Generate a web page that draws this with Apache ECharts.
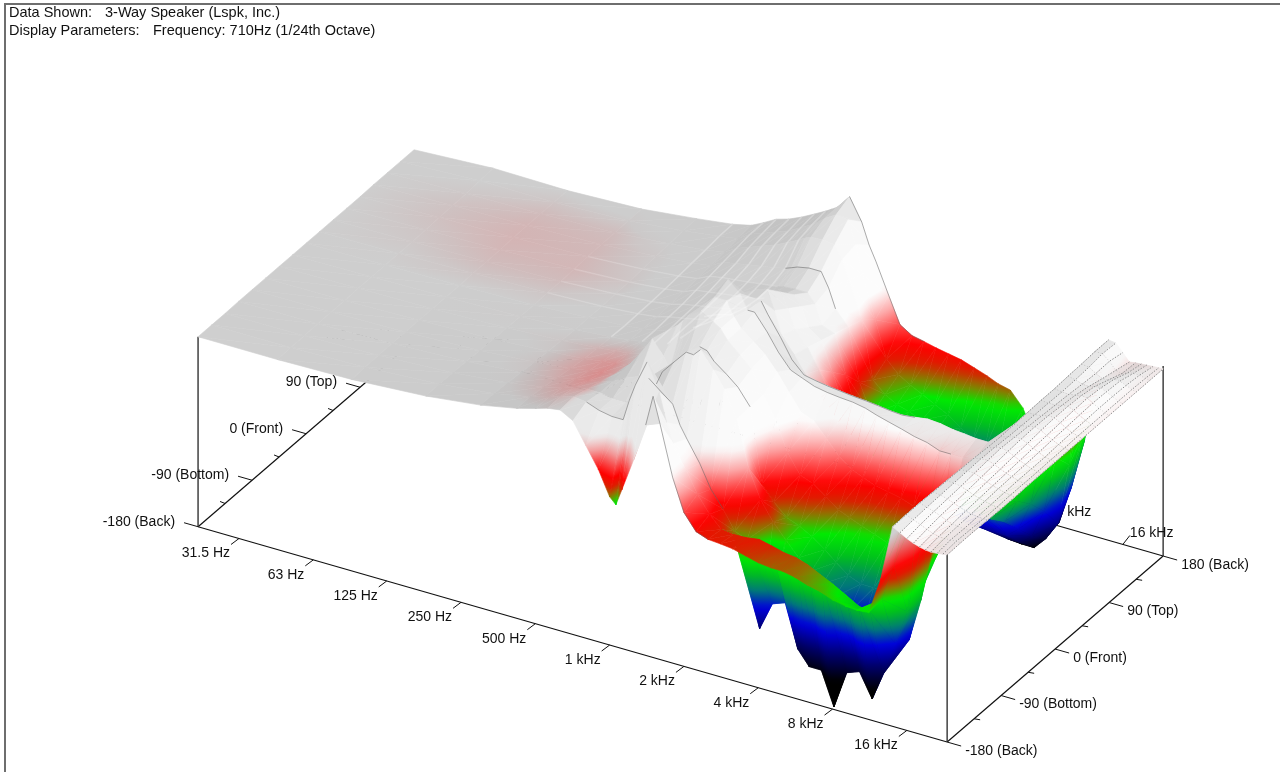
<!DOCTYPE html>
<html>
<head>
<meta charset="utf-8">
<title>3-Way Speaker balloon</title>
<script src="https://cdn.jsdelivr.net/npm/echarts@6/dist/echarts.min.js"></script>
<style>
  html, body { margin: 0; padding: 0; background: #fff; }
  #chart { width: 1280px; height: 772px; }
</style>
</head>
<body>
<div id="chart"></div>
<script>
// == data ==
const frequencyHz = [21.5, 45, 90, 180, 300, 420, 500, 560, 630, 710, 800, 900, 1000, 1060, 1120, 1250, 1400, 1500, 1600, 1800, 2000, 2240, 2500, 2800, 3150, 3550, 4000, 4500, 5000, 5600, 6300, 7100, 8000, 9000, 10000, 11200, 12500, 14000, 15000, 16000, 17000, 18000, 19000, 20000, 21200, 22400, 23300];
const angleDeg = [-180, -157.5, -135, -112.5, -90, -67.5, -45, -22.5, 0, 22.5, 45, 67.5, 90, 112.5, 135, 157.5, 180];
// level in dB, one row per angle, one value per frequency
const levelRows = [
  [0,0,.3,1.3,2.7,4.2,5.3, 6.1,6.5,5,.6,-3.7,-8.8,-10.1,-6.6, .4,8.5,15,9.6,-.9,-7.6,-10.9,-11.8, -12,-12.3,-13,-13.7,-14,-14,-14.5,-15.4,-16,-17,-17.5,-17.7,-17.5,-10, 2,1.2,.4,-.2,-.6,-.9,-1,-.9,-.7,-.6],
  [0,.1,.4,1.4,2.7,4.2,5.3, 6.2,6.8,6.5,5.5,5,5,9.5,13, 18.6,13,7,3,-1.8,-6.2,-9.7,-12.2, -12.5,-12.4,-12,-12.6,-13.3,-13.6,-14.4,-15.7,-17,-18.5,-20,-20.5,-17.2,-9.2, 2.1,1.5,.9,.3,-.2,-.5,-.6,-.5,-.4,-.5],
  [0,.1,.5,1.3,2.5,3.8,4.8, 5.5,6,6,5.5,5.5,6,9,12, 10,8,4,1.5,-2.8,-7.6,-11,-15, -16,-34,-28,-27,-36,-39,-39,-46,-38,-37,-42,-36,-29,-21.5, 2.1,1.7,1.2,.7,.1,-.3,-.4,-.6,-.5,-.5],
  [.1,.2,.5,1.2,2.3,3.3,4.2, 4.6,5.2,6,7.5,8.5,7,8,10.9, 13.7,16.5,16.4,17.9,14.4,11,5.3,-4, -10,-14,-17,-20,-22,-24,-26,-29,-32,-34,-36,-32,-30.6,-21.5, 2,1.8,1.4,.9,.4,0,-.3,-.5,-.6,-.6],
  [.1,.2,.5,1.1,2,2.8,3.5, 3.8,4.4,6,10,14,11,8.5,10, 13,15.2,14.8,13,11,9,5.6,-10, -13,-15.5,-16.5,-18,-20,-22,-24,-25,-25,-25,-26,-26,-22,-12, 1.9,1.9,1.6,1.1,.6,.2,-.1,-.4,-.6,-.7],
  [.1,.2,.5,1,1.8,2.4,3, 3.2,3.8,6,9,12.5,15,16.5,18, 19.5,18,17,15,12.6,10.3,5.7,1.2, -5,-9,-10,-12,-14,-15,-16,-17,-18,-19,-20,-21,-18,-8, 1.8,2,1.9,1.4,.9,.4,.1,-.3,-.5,-.7],
  [.1,.3,.5,1,1.6,2.2,2.7, 3,3.6,4.5,6.5,9.5,13,15,17.5, 20,20,17,15,13,11,8,4.5, 1,0,-3,-6,-8,-9,-10,-10.5,-11,-12,-14,-20.7,-15,-6, 1.7,2.1,2.2,1.7,1.1,.6,.2,-.2,-.5,-.6],
  [.1,.3,.5,.9,1.5,2.1,2.6, 3,3.5,4,6,9,12,13.5,16, 21.3,19,16,16,12.6,9,6,5, 4,3.5,3.2,3,2.5,1.7,1,.3,-.5,-1,-2,-2,-2,-1.5, 1.5,2,2.4,2,1.4,.8,.3,-.2,-.5,-.6],
  [.1,.3,.5,.9,1.5,2,2.5, 3,3.6,4.3,5.5,7.5,10,12.5,14, 16,15,15.5,13,9,5,2.5,2, 1.6,1.3,1,.8,.5,.2,0,.3,.7,.5,0,-.2,-.5,-.5, 1.4,1.8,2.2,2.2,1.6,1,.4,-.2,-.4,-.6],
  [.1,.3,.6,1,1.5,2.1,2.6, 3.3,3.8,4.4,5,6.2,7.5,9,11.5, 14.2,15,11,6.3,2.9,-.6,-3,-6, -9,-11,-12,-13,-14,-15,-16,-17,-17,-18,-18,-19,-15,-6, 1.5,1.7,2,2.3,1.9,1.2,.6,0,-.4,-.6],
  [.1,.3,.6,1,1.6,2.2,2.8, 3.5,4,4.5,5,5.7,6.5,7.5,9, 11,12,9,5,2,-2,-7,-12, -14,-16,-17,-18,-19,-20,-20,-21,-21,-22,-22,-23,-19,-9, 1.6,1.6,1.8,2.2,2.1,1.4,.7,.1,-.3,-.6],
  [.1,.4,.7,1.1,1.7,2.4,3, 4,4.4,4.8,5.2,5.6,6,6.5,7, 8,9,7,3,1,-5,-12,-17, -19,-21,-22,-23,-24,-25,-25,-26,-26,-26,-26,-26,-21,-11, 1.7,1.6,1.6,1.9,2.1,1.6,.9,.2,-.3,-.6],
  [.1,.5,.8,1.3,2,2.7,3.3, 4.5,5,5.3,5.6,6,6.3,6.5,6.8, 7,7,5,1,0,-8,-16,-21, -23,-25,-26,-28,-29,-30,-31,-32,-32,-32,-32,-30,-24,-13, 1.7,1.5,1.4,1.6,1.9,1.7,1,.3,-.3,-.6],
  [.2,.6,.9,1.4,2.2,3,3.6, 5,5.5,6,6.5,7,7.5,8,8.5, 9,9,6,2,-1,-12,-18,-20, -21,-23,-25,-27,-29,-31,-33,-34,-35,-36,-36,-34,-28,-16, 1.9,1.6,1.1,1,1.4,1.4,.9,.3,-.3,-.6],
  [.2,.7,.9,1.4,2.4,3.3,4, 5.5,6.5,7.5,8.5,9.8,11,11.8,12.3, 12.5,12.2,9.5,5.7,-2,-13.9,-16.3,-17.7, -18.4,-19.5,-21.5,-24,-28,-34,-38,-38.5,-38,-39.5,-39.5,-37,-33,-20, 2,1.8,.9,.2,.3,.8,.7,.2,-.3,-.6],
  [.2,.9,.9,1.5,2.7,3.7,4.4, 6,7,8,9,10.5,11.8,12.8,13.8, 15.3,15,10.2,4.3,-4.4,-12,-14.5,-16, -17.3,-18.7,-20,-22,-23.8,-25,-26,-28,-32,-36,-39,-36,-28,-16, 2.2,2.2,1,-.5,-.8,-.3,-.1,-.1,-.4,-.6],
  [.2,1.1,.9,1.5,2.8,3.8,4.7, 6,7.5,8.3,9.5,10.9,12.2,13,13.8, 16.7,12.1,7.7,4.6,-1.7,-7.2,-8.8,-9.3, -9.9,-10.4,-10.9,-11.8,-12.7,-13.7,-14.3,-17.3,-23.3,-28.8,-36,-30,-20.3,-10, 2.2,2,.4,-1.2,-1,-.9,-.8,-.7,-.6,-.6]
];
// colour offset in dB for the first frequencies (the reddish patches on the low end)
const tintRows = [
  [0,0,0,-1,-3.5,-5,-6.5,-6.5,-3,-3,-6,-6,-8,-6,-3],
  [0,0,0,-2,-5,-7,-8,-8,-4],
  [0,0,0,-2.5,-5.5,-7.5,-8.5,-8.5,-5],
  [0,0,0,-2.5,-5.5,-7.5,-8.5,-8,-4],
  [0,0,0,-2.5,-5.5,-7,-8,-7.5,-3],
  [0,0,0,-2,-5,-6.5,-7,-6,-3],
  [0,0,-.5,-2,-4,-5,-5,-4,-2],
  [0,0,-1,-1,-2,-2.5,-2.5,-2],
  [0,-.2,-.8,-.6,-.5],
  [-.4,-1.3,-1.6,-1.3,-.5],
  [-.8,-2,-2.4,-1.8,-1],
  [-1.2,-2.5,-2.9,-2.3,-1],
  [-1.6,-2.8,-3,-2.4,-1],
  [-1.6,-2.8,-3,-2.5,-1],
  [-1.2,-2.4,-2.7,-2,-1],
  [-.8,-1.6,-1.8,-1,-.5],
  [-.4,-.8,-.9,-.5]
];
const freqTicks = [31.5, 63, 125, 250, 500, 1000, 2000, 4000, 8000, 16000];
const freqLabels = ['31.5 Hz', '63 Hz', '125 Hz', '250 Hz', '500 Hz', '1 kHz', '2 kHz', '4 kHz', '8 kHz', '16 kHz'];
const angleTicks = [-180, -135, -90, -45, 0, 45, 90, 135, 180];
const angleLabels = ['-180 (Back)', '', '-90 (Bottom)', '', '0 (Front)', '', '90 (Top)', '', '180 (Back)'];
const colorStops = [
  [0, 255, 255, 255], [-1, 255, 240, 240], [-4, 255, 170, 170], [-7, 255, 80, 80], [-10, 255, 0, 0],
  [-12.5, 220, 30, 0], [-15, 130, 130, 0], [-17.5, 0, 235, 0], [-21, 0, 190, 30], [-25, 0, 120, 120],
  [-29, 0, 0, 220], [-34, 0, 0, 110], [-40, 0, 0, 0]
];
// thin fold lines on the surface: row, first column, last column
const foldLines = [[0, 16, 22], [1, 9, 15], [2, 14, 21], [3, 13, 18], [4, 16, 21], [7, 17, 34], [8, 17, 30], [13, 12, 18], [16, 15, 22]];
const streakColumns = [5, 7, 8, 9, 10, 11, 12];
const streakRows = [9, 10, 11, 12];

// == projection: frequency, angle and level onto the picture ==
const font = '14px "Liberation Sans", Arial, sans-serif';
const titleFont = '14.5px "Liberation Sans", Arial, sans-serif';
const freqU = f => (239 + 74.3 * Math.log2(f / 31.5) - 199) / 748;
const angleV = a => (a + 180) / 360;
const project = (f, a, db) => {
  const u = freqU(f), v = angleV(a);
  return [199 + 748 * u + 216 * v, 337 + 215 * u - 186 * v - 4.75 * db];
};
const floorDb = -40;

const clamp = (x, a, b) => Math.min(b, Math.max(a, x));
function levelRgb(level, lit) {
  let rgb = colorStops[colorStops.length - 1].slice(1);
  if (level >= 0) rgb = [255, 255, 255];
  else {
    for (let i = 1; i < colorStops.length; i++) {
      if (level >= colorStops[i][0]) {
        const a = colorStops[i - 1], b = colorStops[i];
        const t = (a[0] - level) / (a[0] - b[0]);
        rgb = [1, 2, 3].map(k => a[k] + (b[k] - a[k]) * t);
        break;
      }
    }
  }
  const w = clamp((level + 10) / 9, 0, 1);
  const m = 1 - (1 - lit) * w;
  return 'rgb(' + rgb.map(x => Math.round(x * m)).join(',') + ')';
}
const colorLevel = (r, c) => levelRows[r][c] + ((tintRows[r][c - 1]) || 0);

// brightness of one grid quad: slopes facing the viewer come out white, flat parts grey
function quadLit(r, c) {
  const L = levelRows;
  const du = freqU(frequencyHz[c + 1]) - freqU(frequencyHz[c]);
  const dzdu = (L[r][c + 1] + L[r + 1][c + 1] - L[r][c] - L[r + 1][c]) / 2 / du;
  const dzdv = (L[r + 1][c] + L[r + 1][c + 1] - L[r][c] - L[r][c + 1]) / 2 * 16;
  const base = c < 21 ? 0.81 : (c < 37 ? 0.97 : 0.92);
  return clamp(base - dzdu * 0.001 + dzdv * 0.002, 0.76, 0.99);
}
// softened with the neighbouring quads so the facets do not show
const rawLit = levelRows.slice(1).map((row, r) => row.slice(1).map((x, c) => quadLit(r, c)));
const softLit = rawLit.map((row, r) => row.map((x, c) => {
  let sum = x * 2, n = 2;
  for (let i = -1; i <= 1; i++) {
    for (let j = -1; j <= 1; j++) {
      const q = rawLit[r + i] && rawLit[r + i][c + j];
      if (q !== undefined) { sum += q; n++; }
    }
  }
  return sum / n;
}));

function triangleStyle(pts, vals, lit) {
  const [p0, p1, p2] = pts;
  const ax = p1[0] - p0[0], ay = p1[1] - p0[1], bx = p2[0] - p0[0], by = p2[1] - p0[1];
  const da = vals[1] - vals[0], db = vals[2] - vals[0];
  const det = ax * by - ay * bx;
  const hi = Math.max(vals[0], vals[1], vals[2]), lo = Math.min(vals[0], vals[1], vals[2]);
  if (Math.abs(det) < 1e-6 || hi - lo < 0.05) {
    const col = levelRgb((hi + lo) / 2, lit);
    return { fill: col, stroke: col, lineWidth: 0.6 };
  }
  const gx = (da * by - db * ay) / det, gy = (db * ax - da * bx) / det;
  const g2 = gx * gx + gy * gy;
  const iLo = vals.indexOf(lo);
  const base = pts[iLo];
  const span = hi - lo;
  const x2 = base[0] + gx / g2 * span, y2 = base[1] + gy / g2 * span;
  const n = clamp(Math.ceil(span / 1.2), 1, 24);
  const stops = [];
  for (let i = 0; i <= n; i++) stops.push({ offset: i / n, color: levelRgb(lo + span * i / n, lit) });
  const grad = new echarts.graphic.LinearGradient(base[0], base[1], x2, y2, stops, true);
  return { fill: grad, stroke: grad, lineWidth: 0.6 };
}

// == far rows first, low frequencies first ==
const surfaceCells = [];
for (let r = levelRows.length - 2; r >= 0; r--) {
  for (let c = 0; c < frequencyHz.length - 1; c++) {
    surfaceCells.push([r, c, 1], [r, c, 0]);
  }
}

function renderSurface(params, api) {
  const r = api.value(0), c = api.value(1), t = api.value(2);
  const verts = t === 1 ? [[r, c], [r + 1, c + 1], [r + 1, c]] : [[r, c], [r, c + 1], [r + 1, c + 1]];
  const pts = verts.map(q => api.coord(project(frequencyHz[q[1]], angleDeg[q[0]], levelRows[q[0]][q[1]])));
  const vals = verts.map(q => colorLevel(q[0], q[1]));
  return { type: 'polygon', shape: { points: pts }, style: triangleStyle(pts, vals, softLit[r][c]) };
}

// == lines lying on the surface ==
const rowPoints = (api, r, c0, c1) => {
  const pts = [];
  for (let c = c0; c <= c1; c++) pts.push(api.coord(project(frequencyHz[c], angleDeg[r], levelRows[r][c])));
  return pts;
};
const columnPoints = (api, c, r0, r1) => {
  const pts = [];
  for (let r = r0; r <= r1; r++) pts.push(api.coord(project(frequencyHz[c], angleDeg[r], levelRows[r][c])));
  return pts;
};
const poly = (pts, stroke, lineWidth, lineDash) => ({ type: 'polyline', shape: { points: pts }, style: { fill: null, stroke, lineWidth, lineDash } });
function renderLines(params, api) {
  const kids = [];
  for (let c = 37; c < frequencyHz.length; c++) kids.push(poly(columnPoints(api, c, 0, 16), '#8c8c8c', 1, [1.5, 1.5]));
  for (let r = 1; r < 16; r++) kids.push(poly(rowPoints(api, r, 37, 46), 'rgba(140,140,140,0.45)', 0.8, [1, 2]));
  foldLines.forEach(f => kids.push(poly(rowPoints(api, f[0], f[1], f[2]), 'rgba(90,90,90,0.5)', 1)));
  streakColumns.forEach(c => kids.push(poly(columnPoints(api, c, 7, 16), 'rgba(255,255,255,0.25)', 1.6)));
  streakRows.forEach(r => kids.push(poly(rowPoints(api, r, 3, 13), 'rgba(255,255,255,0.14)', 1.6)));
  return { type: 'group', children: kids };
}

// == box and ticks ==
const seg = (a, b, w, col) => ({ type: 'line', shape: { x1: a[0], y1: a[1], x2: b[0], y2: b[1] }, style: { stroke: col || '#111', lineWidth: w || 1 } });
const txt = (x, y, s, align) => ({ type: 'text', style: { x, y, text: s, align, verticalAlign: 'middle', font, fill: '#111' } });
const fLo = frequencyHz[0], fHi = frequencyHz[frequencyHz.length - 1];
function renderBox(params, api) {
  const P = (f, a, db) => api.coord(project(f, a, db));
  const kids = [
    seg(P(fLo, -180, floorDb), P(fHi, -180, floorDb), 1.2),
    seg(P(fLo, 180, floorDb), P(fHi, 180, floorDb), 1.2),
    seg(P(fLo, -180, floorDb), P(fLo, 180, floorDb), 1.2),
    seg(P(fHi, -180, floorDb), P(fHi, 180, floorDb), 1.2),
    seg(P(fLo, -180, floorDb), P(fLo, -180, 0), 1.4, '#333'),
    seg(P(fHi, -180, floorDb), P(fHi, -180, 0), 1.4, '#333'),
    seg(P(fHi, 180, floorDb), P(fHi, 180, 0), 1.4, '#333')
  ];
  freqTicks.forEach((f, i) => {
    const a = P(f, -180, floorDb), b = P(f, 180, floorDb);
    kids.push(seg(a, [a[0] - 8, a[1] + 6]));
    kids.push(txt(a[0] - 9, a[1] + 15, freqLabels[i], 'right'));
    kids.push(seg(b, [b[0] + 7, b[1] - 9]));
    kids.push(txt(b[0] + 7, b[1] - 11, freqLabels[i], 'left'));
  });
  angleTicks.forEach((t, i) => {
    const a = P(fLo, t, floorDb), b = P(fHi, t, floorDb);
    const major = angleLabels[i] !== '';
    kids.push(seg(a, major ? [a[0] - 14, a[1] - 4] : [a[0] - 5, a[1] - 2]));
    kids.push(seg(b, major ? [b[0] + 14, b[1] + 4] : [b[0] + 6, b[1] + 1]));
    if (major) {
      kids.push(txt(a[0] - 23, a[1] - 5, angleLabels[i], 'right'));
      kids.push(txt(b[0] + 18, b[1] + 9, angleLabels[i], 'left'));
    }
  });
  return { type: 'group', children: kids };
}

var myChart = echarts.init(document.getElementById('chart'), null, { renderer: 'canvas' });
var option = {
  animation: false,
  backgroundColor: '#fff',
  grid: { left: 0, right: 0, top: 0, bottom: 0 },
  xAxis: { type: 'value', min: 0, max: 1280, show: false },
  yAxis: { type: 'value', min: 0, max: 772, inverse: true, show: false },
  graphic: [
    { type: 'rect', shape: { x: 5, y: 4, width: 1280, height: 800 }, style: { fill: null, stroke: '#6e6e6e', lineWidth: 2 }, silent: true },
    { type: 'text', style: { x: 9, y: 5, text: 'Data Shown:', font: titleFont, fill: '#111' } },
    { type: 'text', style: { x: 105, y: 5, text: '3-Way Speaker (Lspk, Inc.)', font: titleFont, fill: '#111' } },
    { type: 'text', style: { x: 9, y: 23, text: 'Display Parameters:', font: titleFont, fill: '#111' } },
    { type: 'text', style: { x: 153, y: 23, text: 'Frequency: 710Hz (1/24th Octave)', font: titleFont, fill: '#111' } }
  ],
  series: [
    { type: 'custom', name: 'box', z: 1, clip: false, silent: true, coordinateSystem: 'cartesian2d', renderItem: renderBox, data: [[0]], encode: { x: 0 } },
    { type: 'custom', name: 'surface', z: 2, clip: false, silent: true, progressive: 0, coordinateSystem: 'cartesian2d', renderItem: renderSurface, data: surfaceCells, encode: { x: 0, y: 1 } },
    { type: 'custom', name: 'lines', z: 3, clip: false, silent: true, coordinateSystem: 'cartesian2d', renderItem: renderLines, data: [[0]], encode: { x: 0 } }
  ]
};
myChart.setOption(option);
</script>
</body>
</html>
